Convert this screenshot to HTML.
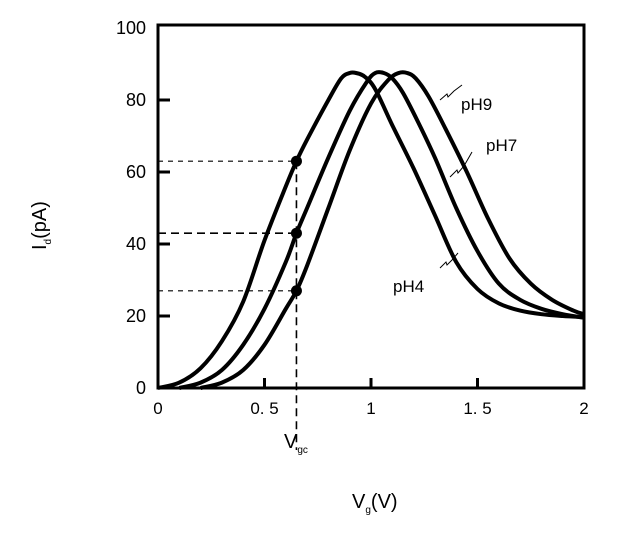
<!DOCTYPE html>
<html><head><meta charset="utf-8"><style>
body{margin:0;background:#fff;}
svg{display:block;font-family:"Liberation Sans",sans-serif;}
</style></head><body>
<svg id="chart" width="622" height="543" viewBox="0 0 622 543">
<g id="plot"></g>
</svg>
<script>
const yTicks=[0,20,40,60,80,100];
const xTicks=[0,0.5,1,1.5,2];
const xTickLabels=["0","0. 5","1","1. 5","2"];
const curveNames=["pH4","pH7","pH9"];
const pH4X=[0,0.1,0.2,0.3,0.4,0.5,0.6,0.65,0.7,0.8,0.86,0.9,0.93,0.97,1.02,1.1,1.2,1.3,1.4,1.5,1.6,1.7,1.8,1.9,2];
const pH4Y=[0,1.5,5.5,13,24,41,56,63,69,80,86,87.5,87.5,86.5,83,73,61,48,35,27.5,23.5,21.5,20.5,20,19.7];
const pH7X=[0.1,0.2,0.3,0.4,0.5,0.6,0.65,0.7,0.8,0.9,0.98,1.02,1.06,1.1,1.15,1.22,1.3,1.4,1.5,1.6,1.7,1.8,1.9,2];
const pH7Y=[0,1.5,5,12,22,35,43,50,64,77,85,87.5,87.5,86,82,74,64,50,38,29,24.5,22,20.5,19.5];
const pH9X=[0.2,0.3,0.4,0.5,0.6,0.65,0.7,0.8,0.9,1.0,1.08,1.13,1.17,1.21,1.27,1.35,1.45,1.55,1.65,1.75,1.85,1.95,2];
const pH9Y=[0,1.5,5,12,22,27,34,50,66,79,85.5,87.5,87.5,86,81,72,60,47,36,29,24.5,21.5,20.5];
const vgc=0.65;
const dotValues=[63,43,27];

const X0=158,X1=584,Y0=388,Y1=28;
const sx=v=>X0+(X1-X0)*v/2;
const sy=v=>Y0-(Y0-Y1)*v/100;
const NS="http://www.w3.org/2000/svg";
const g=document.getElementById('plot');
function mk(t,a,parent){const e=document.createElementNS(NS,t);for(const k in a)e.setAttribute(k,a[k]);(parent||g).appendChild(e);return e;}

const fr=mk('rect',{x:X0,y:25,width:X1-X0,height:Y0-25,fill:'none',stroke:'#000','stroke-width':3});



yTicks.forEach(v=>{
  if(v>0&&v<100){const t=mk('line',{x1:X0,x2:X0+12,y1:sy(v),y2:sy(v),stroke:'#000','stroke-width':3});
  
  }
  const l=mk('text',{x:146,y:sy(v)+6,'text-anchor':'end','font-size':18});
  l.textContent=v;
  
  
});
xTicks.forEach((v,i)=>{
  if(v>0&&v<2){const t=mk('line',{x1:sx(v),x2:sx(v),y1:Y0,y2:Y0-10,stroke:'#000','stroke-width':3});
  
  }
  const l=mk('text',{x:sx(v),y:414,'text-anchor':'middle','font-size':17});
  l.textContent=xTickLabels[i];
  
  
});

function pathFrom(xs,ys){
  const p=xs.map((x,i)=>[sx(x),sy(ys[i])]);
  let d='M'+p[0][0]+','+p[0][1];
  for(let i=0;i<p.length-1;i++){
    const a=p[i-1]||p[i],b=p[i],c=p[i+1],e=p[i+2]||c;
    d+=' C'+(b[0]+(c[0]-a[0])/6)+','+(b[1]+(c[1]-a[1])/6)+' '+(c[0]-(e[0]-b[0])/6)+','+(c[1]-(e[1]-b[1])/6)+' '+c[0]+','+c[1];
  }
  return d;
}
const series=[[pH4X,pH4Y],[pH7X,pH7Y],[pH9X,pH9Y]];
series.forEach((s,i)=>{
  const p=mk('path',{d:pathFrom(s[0],s[1]),fill:'none',stroke:'#000','stroke-width':4,'stroke-linejoin':'round'});
  
  
});

dotValues.forEach((v,i)=>{
  const l=mk('line',{x1:X0,x2:sx(vgc),y1:sy(v),y2:sy(v),stroke:'#000','stroke-width':i==1?1.6:1.2,'stroke-dasharray':i==1?'8,5':'5,5'});
  
  
});
const vl=mk('line',{x1:sx(vgc),x2:sx(vgc),y1:sy(dotValues[0]),y2:450,stroke:'#000','stroke-width':1.6,'stroke-dasharray':'8,5'});


dotValues.forEach(v=>{
  const c=mk('circle',{cx:sx(vgc),cy:sy(v),r:5.5,fill:'#000'});
  
  
});

const labels=[["pH9",461,110,"M440,100 l7,-6 l1,3 l6,-6 l8,-6"],["pH7",486,151,"M450,177 l7,-7 l1,3 l6,-7 l8,-14"],["pH4",393,292,"M440,268 l6,-6 l1,3 l5,-5 l6,-7"]];
labels.forEach(a=>{
  const t=mk('text',{x:a[1],y:a[2],'font-size':17});
  t.textContent=a[0];
  
  
  const p=mk('path',{d:a[3],fill:'none',stroke:'#000','stroke-width':1});
  
  
});

const vg=mk('text',{x:284,y:448,'font-size':20});
vg.innerHTML='V<tspan font-size="10" dy="5">gc</tspan>';


const xt=mk('text',{x:352,y:508,'font-size':20});
xt.innerHTML='V<tspan font-size="10" dy="5">g</tspan><tspan dy="-5">(V)</tspan>';


const yt=mk('text',{x:0,y:0,'font-size':20,transform:'translate(46,250) rotate(-90)'});
yt.innerHTML='I<tspan font-size="10" dy="5">d</tspan><tspan dy="-5">(pA)</tspan>';


</script>
</body></html>
